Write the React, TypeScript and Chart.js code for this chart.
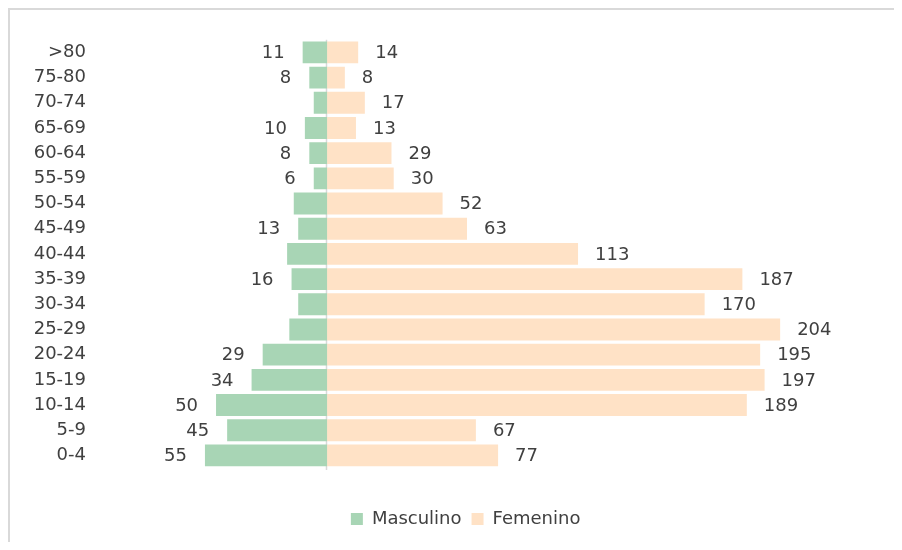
import React, { useEffect, useRef } from "react";
import { Chart, registerables } from "chart.js";

Chart.register(...registerables);

// Top-down order, as drawn
const categories = [">80", "75-80", "70-74", "65-69", "60-64", "55-59", "50-54", "45-49", "40-44", "35-39", "30-34", "25-29", "20-24", "15-19", "10-14", "5-9", "0-4"];
const masculino = [11, 8, 6, 10, 8, 6, 15, 13, 18, 16, 13, 17, 29, 34, 50, 45, 55];
const femenino = [14, 8, 17, 13, 29, 30, 52, 63, 113, 187, 170, 204, 195, 197, 189, 67, 77];
const masculinoLabelShown = [true, true, false, true, true, true, false, true, false, true, false, false, true, true, true, true, true];
const seriesNames = ["Masculino", "Femenino"];

const FONT = "'DejaVu Sans', sans-serif";
const TEXT = "#404040";

const labelPlugin = {
  id: "barLabels",
  afterDatasetsDraw(chart: any) {
    const ctx = chart.ctx;
    ctx.save();
    ctx.font = `18px ${FONT}`;
    ctx.fillStyle = TEXT;
    ctx.textBaseline = "middle";
    chart.data.datasets.forEach((ds: any, di: number) => {
      const meta = chart.getDatasetMeta(di);
      meta.data.forEach((bar: any, i: number) => {
        if (di === 0) {
          if (!masculinoLabelShown[i]) return;
          ctx.textAlign = "right";
          ctx.fillText(String(masculino[i]), bar.x - 18, bar.y + 1);
        } else {
          ctx.textAlign = "left";
          ctx.fillText(String(femenino[i]), bar.x + 17, bar.y + 1);
        }
      });
    });
    ctx.restore();
  },
};

const zeroLinePlugin = {
  id: "zeroLine",
  beforeDatasetsDraw(chart: any) {
    const { ctx, chartArea, scales } = chart;
    const x = Math.round(scales.x.getPixelForValue(0)) - 0.5;
    ctx.save();
    ctx.strokeStyle = "#d9d9d9";
    ctx.lineWidth = 1.5;
    ctx.beginPath();
    ctx.moveTo(x, chartArea.top);
    ctx.lineTo(x, chartArea.bottom + 2);
    ctx.stroke();
    ctx.restore();
  },
};

const legendShiftPlugin = {
  id: "legendShift",
  afterLayout(chart: any) {
    if (chart.legend) chart.legend.left += 39;
  },
};

export default function App() {
  const ref = useRef<HTMLCanvasElement>(null);
  useEffect(() => {
    if (!ref.current) return;
    const chart = new Chart(ref.current, {
      type: "bar",
      data: {
        labels: categories,
        datasets: [
          {
            label: seriesNames[0],
            data: masculino.map((v) => -v),
            backgroundColor: "#a8d5b5",
            barPercentage: 0.87,
            categoryPercentage: 1,
          },
          {
            label: seriesNames[1],
            data: femenino,
            backgroundColor: "#ffe2c6",
            barPercentage: 0.87,
            categoryPercentage: 1,
          },
        ],
      },
      options: {
        indexAxis: "y",
        animation: false,
        responsive: false,
        maintainAspectRatio: false,
        layout: { padding: { left: 0, right: 19.7, top: 27, bottom: 4 } },
        scales: {
          x: {
            stacked: true,
            min: -100,
            max: 250,
            grid: { display: false },
            border: { display: false },
            ticks: { display: false },
            afterFit: (s: any) => {
              s.height = 32;
            },
          },
          y: {
            stacked: true,
            grid: { display: false, drawTicks: false },
            border: { display: false },
            ticks: { color: TEXT, font: { family: FONT, size: 18 }, padding: 19 },
            afterFit: (s: any) => {
              s.width = 95;
            },
          },
        },
        plugins: {
          legend: {
            position: "bottom",
            labels: {
              color: TEXT,
              font: { family: FONT, size: 18 },
              boxWidth: 12,
              boxHeight: 12,
              padding: 10,
            },
          },
          tooltip: { enabled: false },
        },
      },
      plugins: [zeroLinePlugin, labelPlugin, legendShiftPlugin],
    });
    return () => chart.destroy();
  }, []);
  return (
    <div
      style={{
        width: 894,
        height: 534,
        boxSizing: "border-box",
        borderTop: "2px solid #d9d9d9",
        borderLeft: "2px solid #d9d9d9",
        background: "#fff",
      }}
    >
      <canvas ref={ref} width={892} height={532} style={{ display: "block" }} />
    </div>
  );
}
